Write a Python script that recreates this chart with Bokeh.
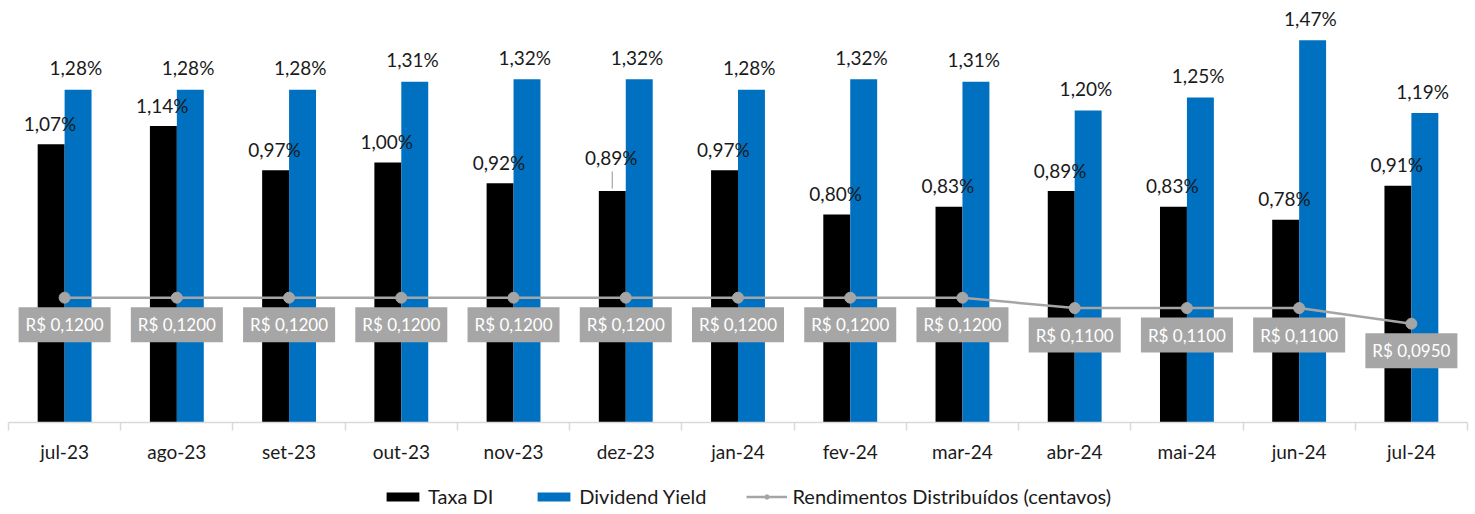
from bokeh.plotting import figure
from bokeh.layouts import column
from bokeh.models import Range1d, FixedTicker, ColumnDataSource, LabelSet, Label, Legend
from bokeh.transform import dodge
from bokeh.core.properties import value
from bokeh.embed import file_html
from bokeh.resources import INLINE

months = ["jul-23", "ago-23", "set-23", "out-23", "nov-23", "dez-23", "jan-24",
          "fev-24", "mar-24", "abr-24", "mai-24", "jun-24", "jul-24"]
taxa_di = [1.07, 1.14, 0.97, 1.00, 0.92, 0.89, 0.97, 0.80, 0.83, 0.89, 0.83, 0.78, 0.91]
dividend_yield = [1.28, 1.28, 1.28, 1.31, 1.32, 1.32, 1.28, 1.32, 1.31, 1.20, 1.25, 1.47, 1.19]
rendimentos = [0.1200, 0.1200, 0.1200, 0.1200, 0.1200, 0.1200, 0.1200, 0.1200, 0.1200,
               0.1100, 0.1100, 0.1100, 0.0950]
series_names = ["Taxa DI", "Dividend Yield", "Rendimentos Distribuídos (centavos)"]

FONT = "Lato"
BLUE = "#0070C0"
GRAY = "#A5A5A5"
TXT = "#1a1a1a"

xs = list(range(1, len(months) + 1))
pct = lambda v: f"{v:.2f}".replace(".", ",") + "%"
src = ColumnDataSource(dict(
    x=xs, di=taxa_di, dy=dividend_yield, rend=rendimentos,
    di_lbl=[pct(v) for v in taxa_di],
    dy_lbl=[pct(v) for v in dividend_yield],
))

TOP = 1.592
p = figure(frame_width=1459, frame_height=414, output_backend="svg", toolbar_location=None,
           x_range=Range1d(0.5, len(months) + 0.5), y_range=Range1d(0, TOP),
           min_border_left=8, min_border_right=8, min_border_top=8, min_border_bottom=0,
           outline_line_color=None)
p.extra_y_ranges = {"rend": Range1d(0, TOP * 0.25)}
p.grid.visible = False
p.yaxis.visible = False

bw = 0.24
p.vbar(x=dodge("x", -0.12, range=p.x_range), top="di", width=bw, source=src,
       fill_color="black", line_color=None)
p.vbar(x=dodge("x", 0.12, range=p.x_range), top="dy", width=bw, source=src,
       fill_color=BLUE, line_color=None)
p.line(x="x", y="rend", source=src, line_color=GRAY, line_width=2.5, y_range_name="rend")
p.scatter(x="x", y="rend", source=src, size=11, fill_color=GRAY, line_color=GRAY,
          y_range_name="rend")

# bar value labels
normal_idx = [i for i in range(len(months)) if i != 5]
src_di = ColumnDataSource(dict(x=[xs[i] for i in normal_idx], y=[taxa_di[i] for i in normal_idx],
                               t=[pct(taxa_di[i]) for i in normal_idx]))
p.add_layout(LabelSet(x=dodge("x", -0.13, range=p.x_range), y="y", text="t", source=src_di,
                      y_offset=21, text_align="center", text_baseline="middle",
                      text_font=value(FONT), text_font_size=value("19px"), text_color=TXT))
p.add_layout(LabelSet(x=dodge("x", 0.10, range=p.x_range), y="dy", text="dy_lbl", source=src,
                      y_offset=22, text_align="center", text_baseline="middle",
                      text_font=value(FONT), text_font_size=value("19px"), text_color=TXT))
# dez-23 label moved up with leader line
k = 5
p.add_layout(Label(x=xs[k] - 0.13, y=taxa_di[k], text=pct(taxa_di[k]), y_offset=34,
                   text_align="center", text_baseline="middle",
                   text_font=FONT, text_font_size="19px", text_color=TXT))
p.segment(x0=[xs[k] - 0.12], y0=[taxa_di[k] + 0.01], x1=[xs[k] - 0.12], y1=[taxa_di[k] + 0.075],
          line_color="#A6A6A6", line_width=1.2)

# rendimentos labels
for i, v in enumerate(rendimentos):
    p.add_layout(Label(x=xs[i], y=v, y_range_name="rend", y_offset=-27,
                       text="R$ " + f"{v:.4f}".replace(".", ","),
                       text_align="center", text_baseline="middle",
                       text_font=FONT, text_font_size="17px", text_color="white",
                       background_fill_color="#A6A6A6", padding=7))

ax = p.xaxis[0]
ax.ticker = FixedTicker(ticks=xs, minor_ticks=[x + 0.5 for x in [0] + xs])
ax.major_label_overrides = {x: m for x, m in zip(xs, months)}
ax.major_tick_line_color = None
ax.major_tick_in = 0
ax.major_tick_out = 8
ax.minor_tick_in = 0
ax.minor_tick_out = 8
ax.minor_tick_line_color = "#D9D9D9"
ax.minor_tick_line_width = 1.5
ax.axis_line_color = "#D9D9D9"
ax.axis_line_width = 1.5
ax.major_label_standoff = 9
ax.major_label_text_font = FONT
ax.major_label_text_font_size = "19px"
ax.major_label_text_color = TXT

# legend in its own strip below the chart (proxy renderers fall outside its ranges)
lf = figure(width=1475, height=50, output_backend="svg", toolbar_location=None,
            x_range=Range1d(100, 101), y_range=Range1d(100, 101),
            x_axis_type=None, y_axis_type=None,
            min_border_left=0, min_border_right=0, min_border_top=0, min_border_bottom=0,
            outline_line_color=None)
lf.grid.visible = False
l_di = lf.vbar(x="x", top="di", width=0.1, source=src, fill_color="black", line_color=None)
l_dy = lf.vbar(x="x", top="dy", width=0.1, source=src, fill_color=BLUE, line_color=None)
l_ln = lf.line(x="x", y="rend", source=src, line_color=GRAY, line_width=2.5)
l_pt = lf.scatter(x="x", y="rend", source=src, size=11, fill_color=GRAY, line_color=GRAY)
legend = Legend(items=[(series_names[0], [l_di]), (series_names[1], [l_dy]),
                       (series_names[2], [l_ln, l_pt])],
                orientation="horizontal", location=(374, 7),
                label_text_font=FONT, label_text_font_size="20px", label_text_color=TXT,
                glyph_width=41, glyph_height=11, label_standoff=5, spacing=40,
                padding=0, margin=0, border_line_color=None, background_fill_alpha=0,
                label_height=20)
lf.add_layout(legend, "center")

open("out.html", "w").write(file_html(column(p, lf), INLINE))
